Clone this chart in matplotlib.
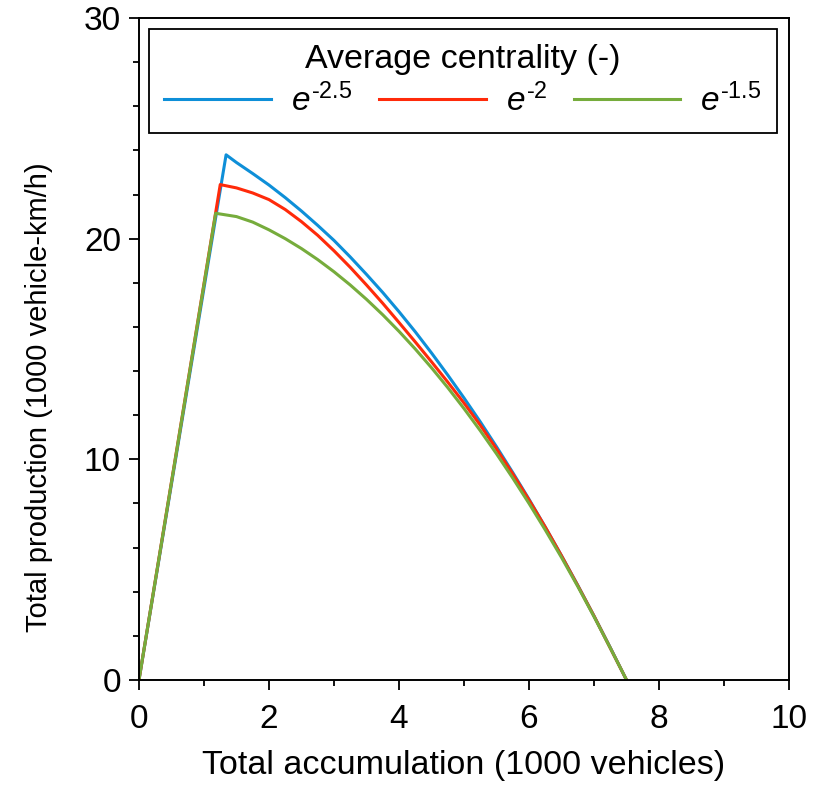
import matplotlib
matplotlib.use("Agg")
import matplotlib.pyplot as plt
from matplotlib.ticker import MultipleLocator

plt.rcParams['font.family'] = ['Liberation Sans', 'DejaVu Sans']
plt.rcParams['mathtext.fontset'] = 'custom'
plt.rcParams['mathtext.rm'] = 'Liberation Sans'
plt.rcParams['mathtext.it'] = 'Liberation Sans:italic'
plt.rcParams['mathtext.bf'] = 'Liberation Sans:bold'

# Data
x_blue = [0, 1.34, 1.5, 1.75, 2.0, 2.25, 2.5, 2.75, 3.0, 3.25, 3.5, 3.75, 4.0, 4.25, 4.5,
          4.75, 5.0, 5.25, 5.5, 5.75, 6.0, 6.25, 6.5, 6.75, 7.0, 7.25, 7.5]
y_blue = [0, 23.8, 23.45, 22.95, 22.43, 21.86, 21.25, 20.6, 19.92, 19.17, 18.38, 17.56, 16.69, 15.78, 14.82,
          13.82, 12.78, 11.7, 10.57, 9.4, 8.19, 6.93, 5.63, 4.29, 2.9, 1.47, 0]

x_red = [0, 1.25, 1.5, 1.75, 2.0, 2.25, 2.5, 2.75, 3.0, 3.25, 3.5, 3.75, 4.0, 4.25, 4.5,
         4.75, 5.0, 5.25, 5.5, 5.75, 6.0, 6.25, 6.5, 6.75, 7.0, 7.25, 7.5]
y_red = [0, 22.45, 22.3, 22.07, 21.77, 21.32, 20.77, 20.15, 19.45, 18.7, 17.9, 17.07, 16.2, 15.32, 14.42,
         13.5, 12.55, 11.55, 10.47, 9.34, 8.16, 6.93, 5.63, 4.28, 2.9, 1.45, 0]

x_green = [0, 1.18, 1.5, 1.75, 2.0, 2.25, 2.5, 2.75, 3.0, 3.25, 3.5, 3.75, 4.0, 4.25, 4.5,
           4.75, 5.0, 5.25, 5.5, 5.75, 6.0, 6.25, 6.5, 6.75, 7.0, 7.25, 7.5]
y_green = [0, 21.15, 21.0, 20.75, 20.4, 20.0, 19.55, 19.05, 18.5, 17.9, 17.25, 16.55, 15.8, 15.0, 14.15,
           13.25, 12.3, 11.3, 10.25, 9.15, 8.0, 6.8, 5.55, 4.24, 2.87, 1.45, 0]

labels = [r'$\mathit{e}^{\text{-2.5}}$', r'$\mathit{e}^{\text{-2}}$', r'$\mathit{e}^{\text{-1.5}}$']
colors = ['#0E8FD8', '#FF2A0A', '#76AC3C']
legend_title = 'Average centrality (-)'
xlabel = 'Total accumulation (1000 vehicles)'
ylabel = 'Total production (1000 vehicle-km/h)'

fig = plt.figure(figsize=(8.19, 7.86), dpi=100)
ax = fig.add_axes([0.1697, 0.1349, 0.7937, 0.8422])

for xs, ys, c, lab in zip([x_blue, x_red, x_green], [y_blue, y_red, y_green], colors, labels):
    ax.plot(xs, ys, color=c, lw=2.2, label=lab, solid_joinstyle='round')

ax.set_xlim(0, 10)
ax.set_ylim(0, 30)
ax.xaxis.set_major_locator(MultipleLocator(2))
ax.xaxis.set_minor_locator(MultipleLocator(1))
ax.yaxis.set_major_locator(MultipleLocator(10))
ax.yaxis.set_minor_locator(MultipleLocator(2))
ax.tick_params(which='both', direction='out', top=False, right=False, width=1.3, labelsize=24,
               colors='black')
ax.tick_params(axis='x', which='major', pad=10)
ax.tick_params(axis='y', which='major', pad=6)
ax.tick_params(which='major', length=7)
ax.tick_params(which='minor', length=4.5)
for s in ax.spines.values():
    s.set_linewidth(1.4)

ax.set_xlabel(xlabel, fontsize=24.5, labelpad=11)
ax.set_ylabel(ylabel, fontsize=21)
ax.yaxis.set_label_coords(-0.133, 0.4275)

leg = ax.legend(title=legend_title, ncol=3, loc='upper center',
                bbox_to_anchor=(0.4985, 0.983),
                fontsize=24, title_fontsize=24.5, handlelength=3.2, handletextpad=0.6,
                columnspacing=0.8, fancybox=False, framealpha=1, edgecolor='black',
                borderpad=0.45, labelspacing=0.25, borderaxespad=0)
leg.get_frame().set_linewidth(1.3)
for line in leg.get_lines():
    line.set_linewidth(2.2)

fig.savefig('out.png', dpi=100)
